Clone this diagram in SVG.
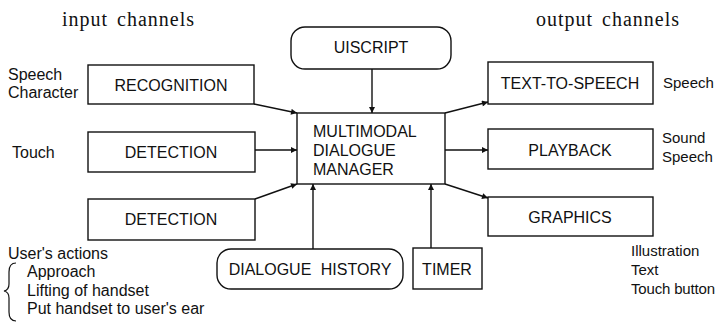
<svg xmlns="http://www.w3.org/2000/svg" width="719" height="325" viewBox="0 0 719 325">
  <style>
    .box { fill: #fff; stroke: #111; stroke-width: 1.4; }
    .lbl { font-family: "Liberation Sans", Arial, sans-serif; font-size: 16px; fill: #111; }
    .out { font-size: 15px; }
    .mid { text-anchor: middle; }
    .title { font-family: "Liberation Serif", "Times New Roman", serif; font-size: 20px; letter-spacing: 1px; word-spacing: 3px; fill: #111; }
    .edge { fill: none; stroke: #111; stroke-width: 1.4; marker-end: url(#arrow); }
  </style>
  <defs>
    <marker id="arrow" viewBox="0 0 10 10" refX="10" refY="5" markerWidth="8" markerHeight="6" markerUnits="userSpaceOnUse" orient="auto">
      <path d="M0,0 L10,5 L0,10 z" fill="#111"/>
    </marker>
  </defs>
  <rect width="719" height="325" fill="#fff"/>

  <!-- headings -->
  <text class="title" x="62" y="26">input channels</text>
  <text class="title" x="536" y="26">output channels</text>

  <!-- connectors -->
  <g id="connectors">
    <line class="edge" x1="372" y1="69" x2="372" y2="113"/>
    <line class="edge" x1="254" y1="104" x2="297" y2="113"/>
    <line class="edge" x1="255" y1="150" x2="297" y2="150"/>
    <line class="edge" x1="255" y1="199" x2="297" y2="184"/>
    <line class="edge" x1="313" y1="249" x2="313" y2="184"/>
    <line class="edge" x1="431" y1="248" x2="431" y2="184"/>
    <line class="edge" x1="445" y1="113" x2="488" y2="102"/>
    <line class="edge" x1="445" y1="150" x2="488" y2="150"/>
    <line class="edge" x1="445" y1="184" x2="488" y2="198"/>
  </g>

  <g id="uiscript">
    <rect class="box" x="291" y="27" width="160" height="42" rx="14"/>
    <text class="lbl mid" x="371" y="53">UISCRIPT</text>
  </g>

  <g id="recognition">
    <rect class="box" x="88" y="65" width="166" height="39"/>
    <text class="lbl mid" x="171" y="91">RECOGNITION</text>
    <text class="lbl" x="8" y="80">Speech</text>
    <text class="lbl" x="8" y="98">Character</text>
  </g>

  <g id="detection-touch">
    <rect class="box" x="88" y="132" width="167" height="40"/>
    <text class="lbl mid" x="171" y="158">DETECTION</text>
    <text class="lbl" x="12" y="158">Touch</text>
  </g>

  <g id="detection-actions">
    <rect class="box" x="88" y="199" width="167" height="41"/>
    <text class="lbl mid" x="171" y="225">DETECTION</text>
    <text class="lbl" x="8" y="259">User's actions</text>
    <path d="M16,263 Q9,263 9,272 L9,284 Q9,290 4,291 Q9,292 9,298 L9,312 Q9,321 16,321" fill="none" stroke="#111" stroke-width="1.2"/>
    <text class="lbl" x="27" y="277">Approach</text>
    <text class="lbl" x="27" y="296">Lifting of handset</text>
    <text class="lbl" x="27" y="314">Put handset to user's ear</text>
  </g>

  <g id="dialogue-manager">
    <rect class="box" x="297" y="113" width="148" height="71"/>
    <text class="lbl" x="313" y="137">MULTIMODAL</text>
    <text class="lbl" x="313" y="156">DIALOGUE</text>
    <text class="lbl" x="313" y="175">MANAGER</text>
  </g>

  <g id="dialogue-history">
    <rect class="box" x="217" y="249" width="186" height="40" rx="14"/>
    <text class="lbl mid" x="310" y="275" word-spacing="5">DIALOGUE HISTORY</text>
  </g>

  <g id="timer">
    <rect class="box" x="413" y="248" width="69" height="41"/>
    <text class="lbl mid" x="447" y="275">TIMER</text>
  </g>

  <g id="text-to-speech">
    <rect class="box" x="488" y="62" width="165" height="42"/>
    <text class="lbl mid" x="570" y="89">TEXT-TO-SPEECH</text>
    <text class="lbl out" x="663" y="88">Speech</text>
  </g>

  <g id="playback">
    <rect class="box" x="488" y="129" width="165" height="40"/>
    <text class="lbl mid" x="570" y="156">PLAYBACK</text>
    <text class="lbl out" x="662" y="143">Sound</text>
    <text class="lbl out" x="662" y="162">Speech</text>
  </g>

  <g id="graphics">
    <rect class="box" x="488" y="197" width="165" height="39"/>
    <text class="lbl mid" x="570" y="223">GRAPHICS</text>
    <text class="lbl out" x="631" y="256">Illustration</text>
    <text class="lbl out" x="631" y="275">Text</text>
    <text class="lbl out" x="631" y="294" textLength="84" lengthAdjust="spacing">Touch button</text>
  </g>
</svg>
